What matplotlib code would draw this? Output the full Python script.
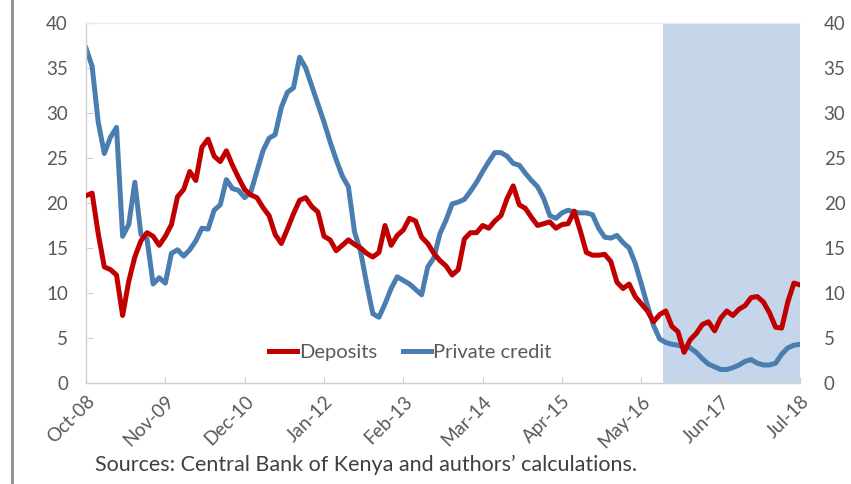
import matplotlib
matplotlib.use("Agg")
import matplotlib.pyplot as plt
from matplotlib.lines import Line2D

plt.rcParams['font.family'] = ['Lato', 'DejaVu Sans']

# Monthly data, Oct-08 .. Jul-18 (118 months), growth rates in percent
deposits = [20.8, 21.1, 16.6, 12.9, 12.6, 12.0, 7.5, 11.3, 14.0, 15.8,
            16.7, 16.3, 15.3, 16.3, 17.6, 20.7, 21.5, 23.5, 22.5, 26.2,
            27.1, 25.2, 24.6, 25.8, 24.2, 22.8, 21.5, 20.9, 20.6, 19.5,
            18.6, 16.5, 15.5, 17.1, 18.8, 20.3, 20.6, 19.6, 19.0, 16.3,
            15.9, 14.7, 15.3, 15.9, 15.4, 15.0, 14.4, 14.0, 14.5, 17.5,
            15.3, 16.4, 17.0, 18.3, 18.0, 16.2, 15.5, 14.4, 13.6, 13.0,
            12.0, 12.6, 16.0, 16.7, 16.7, 17.5, 17.2, 18.0, 18.6, 20.5,
            21.9, 19.8, 19.4, 18.4, 17.5, 17.7, 17.9, 17.2, 17.6, 17.7,
            19.1, 16.9, 14.5, 14.2, 14.2, 14.3, 13.5, 11.2, 10.5, 11.0,
            9.6, 8.8, 8.0, 6.8, 7.6, 8.0, 6.3, 5.7, 3.4, 4.8,
            5.5, 6.5, 6.8, 5.8, 7.2, 8.0, 7.5, 8.2, 8.6, 9.5,
            9.6, 9.0, 7.8, 6.2, 6.1, 9.0, 11.1, 10.9]

private_credit = [37.2, 35.2, 29.0, 25.5, 27.3, 28.4, 16.3, 17.6, 22.3, 16.5,
                  16.0, 11.0, 11.7, 11.1, 14.4, 14.8, 14.1, 14.8, 15.8, 17.2,
                  17.1, 19.2, 19.8, 22.6, 21.6, 21.4, 20.6, 21.2, 23.5, 25.8,
                  27.2, 27.6, 30.6, 32.3, 32.8, 36.2, 35.0, 33.0, 31.0, 29.0,
                  26.8, 24.8, 23.0, 21.8, 16.8, 14.6, 11.0, 7.7, 7.3, 8.8,
                  10.5, 11.8, 11.4, 11.0, 10.4, 9.8, 12.9, 13.9, 16.6, 18.1,
                  19.9, 20.1, 20.4, 21.3, 22.3, 23.5, 24.6, 25.6, 25.6, 25.2,
                  24.4, 24.2, 23.3, 22.5, 21.8, 20.5, 18.6, 18.3, 18.9, 19.2,
                  19.0, 18.9, 18.9, 18.7, 17.2, 16.2, 16.1, 16.4, 15.6, 15.0,
                  13.3, 11.0, 8.6, 6.4, 4.9, 4.5, 4.3, 4.2, 4.0, 3.9,
                  3.4, 2.7, 2.1, 1.8, 1.5, 1.5, 1.7, 2.0, 2.4, 2.6,
                  2.2, 2.0, 2.0, 2.2, 3.2, 3.9, 4.2, 4.3]

tick_labels = ["Oct-08", "Nov-09", "Dec-10", "Jan-12", "Feb-13",
               "Mar-14", "Apr-15", "May-16", "Jun-17", "Jul-18"]
shade_start = 94.6   # interest rate cap period (from Sep-16)

months = list(range(len(deposits)))
tick_pos = list(range(0, len(deposits), 13))

fig = plt.figure(figsize=(8.51, 4.84), dpi=100)
ax = fig.add_axes([86/851, 1-383/484, 714/851, 360/484])

grey_txt = '#595959'
axis_col = '#D0D0D0'

ax.axvspan(shade_start, months[-1], color='#C6D6EA', zorder=0, lw=0)
ax.plot(months, deposits, color='#C00000', lw=3.6, label='Deposits',
        solid_joinstyle='round', zorder=3)
ax.plot(months, private_credit, color='#4A7EB0', lw=3.6, label='Private credit',
        solid_joinstyle='round', zorder=2)

ax.set_xlim(0, months[-1])
ax.set_ylim(0, 40)
ax.set_yticks(range(0, 41, 5))
ax.set_xticks(tick_pos)
ax.set_xticklabels(tick_labels, rotation=45, ha='right', rotation_mode='anchor',
                   fontsize=13.5, color=grey_txt)
ax.tick_params(axis='x', direction='in', length=4, color=axis_col, pad=7)
ax.tick_params(axis='y', direction='in', length=5, color=axis_col, pad=13,
               labelsize=13.5, labelcolor=grey_txt)

for s in ['left', 'bottom', 'top']:
    ax.spines[s].set_color(axis_col)
    ax.spines[s].set_linewidth(1.0)
ax.spines['top'].set_color('#EBEBEB')
ax.spines['right'].set_visible(False)

ax2 = ax.twinx()
ax2.set_ylim(0, 40)
ax2.set_yticks(range(0, 41, 5))
ax2.tick_params(axis='y', length=0, pad=17, labelsize=13.5, labelcolor=grey_txt)
for s in ax2.spines.values():
    s.set_visible(False)

leg = ax.legend(loc='center', bbox_to_anchor=(0.454, 0.086), ncol=2, frameon=False,
                fontsize=14.5, handlelength=1.4, columnspacing=1.3, handletextpad=0.1,
                borderaxespad=0)
for t in leg.get_texts():
    t.set_color(grey_txt)

fig.text(95/851, 1-465/484, "Sources: Central Bank of Kenya and authors\u2019 calculations.",
         fontsize=15.5, color='#404040', va='center', ha='left')

fig.add_artist(Line2D([12/851, 12/851], [0, 1], transform=fig.transFigure,
                      color='#8C8C8C', lw=2))

fig.savefig('out.png', dpi=100)
